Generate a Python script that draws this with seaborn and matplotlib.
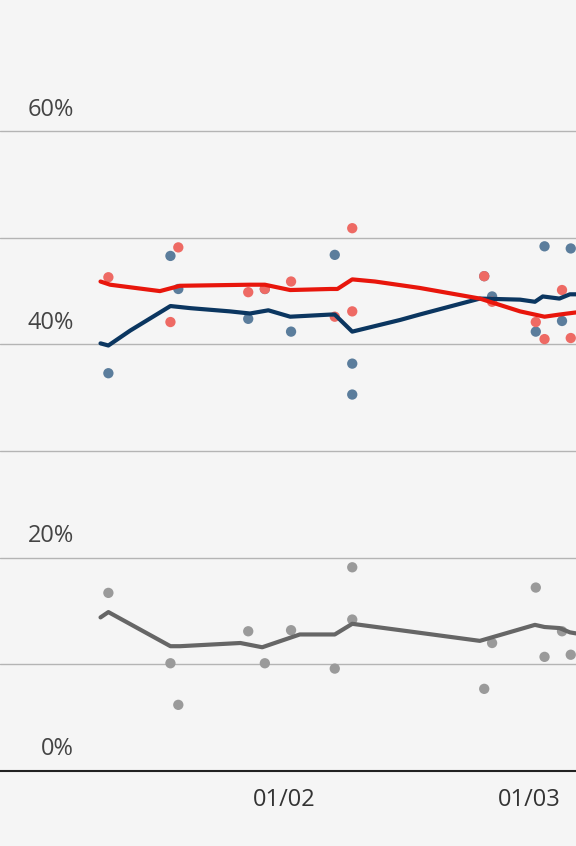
import matplotlib
matplotlib.use("Agg")
import matplotlib.pyplot as plt
import matplotlib.transforms as mtransforms
import seaborn as sns
import pandas as pd

# days since 1 Jan
poll_days = [10.9, 18.0, 18.9, 26.9, 28.8, 31.8, 36.8, 38.8, 38.8, 53.9, 54.8, 59.8, 60.8, 62.8, 63.8]
blue_polls = [37.3, 48.3, 45.2, 42.4, 45.2, 41.2, 48.4, 38.2, 35.3, 46.4, 44.5, 41.2, 49.2, 42.2, 49.0]
red_polls = [46.3, 42.1, 49.1, 44.9, 45.2, 45.9, 42.6, 50.9, 43.1, 46.4, 44.0, 42.1, 40.5, 45.1, 40.6]
gray_polls = [16.7, 10.1, 6.2, 13.1, 10.1, 13.2, 9.6, 19.1, 14.2, 7.7, 12.0, 17.2, 10.7, 13.1, 10.9]

blue_days = [10.0, 10.9, 13.4, 18.0, 20.3, 24.8, 27.1, 29.2, 31.7, 36.3, 36.8, 38.8, 44.3, 46.5, 53.4, 58.0, 59.7, 60.6, 62.5, 63.7, 64.4]
blue_avg = [40.1, 39.9, 41.3, 43.6, 43.4, 43.1, 42.9, 43.2, 42.6, 42.8, 42.8, 41.2, 42.3, 42.8, 44.3, 44.2, 44.0, 44.5, 44.3, 44.7, 44.7]
red_days = [10.0, 11.1, 16.8, 19.1, 27.1, 28.8, 31.7, 36.3, 37.1, 38.8, 41.4, 46.5, 53.4, 58.0, 60.8, 62.5, 64.4]
red_avg = [45.9, 45.6, 45.0, 45.5, 45.6, 45.6, 45.1, 45.2, 45.2, 46.1, 45.9, 45.3, 44.3, 43.1, 42.6, 42.8, 43.0]
gray_days = [10.0, 10.9, 18.0, 19.1, 21.4, 26.0, 28.5, 32.8, 36.8, 38.8, 44.3, 53.4, 59.7, 60.8, 62.5, 63.7, 64.4]
gray_avg = [14.4, 14.9, 11.7, 11.7, 11.8, 12.0, 11.6, 12.8, 12.8, 13.8, 13.2, 12.2, 13.7, 13.5, 13.4, 13.0, 12.9]

x_ticks = [31, 59]
x_labels = ["01/02", "01/03"]
y_labels = [0, 20, 40, 60]

bg = "#f5f5f5"
sns.set_style("white")
plt.rcParams['font.family'] = ['Open Sans', 'DejaVu Sans']

fig = plt.figure(figsize=(5.76, 8.46), dpi=100, facecolor=bg)
ax = fig.add_axes([0, 0.0887, 1, 0.9113], facecolor=bg)

for y in range(10, 70, 10):
    ax.axhline(y, color="#b4b4b4", lw=1, zorder=0)

series = [
    (blue_polls, blue_days, blue_avg, "#5b7d9c", "#0b3660"),
    (red_polls, red_days, red_avg, "#ee6a64", "#e8160c"),
    (gray_polls, gray_days, gray_avg, "#9a9a9a", "#666666"),
]
for polls, ldays, lavg, dot_c, line_c in series:
    sns.scatterplot(x=poll_days, y=polls, color=dot_c, s=55, edgecolor="none", ax=ax, zorder=2)
    sns.lineplot(x=ldays, y=lavg, color=line_c, lw=3, ax=ax, zorder=3)

ax.set_xlim(-1.5, 64.4)
ax.set_ylim(0, 72.3)
ax.set_yticks([])
ax.set_xticks(x_ticks)
ax.set_xticklabels(x_labels, fontsize=17, color="#333333")
ax.tick_params(axis="x", length=0, pad=12)
for s in ["top", "left", "right"]:
    ax.spines[s].set_visible(False)
ax.spines["bottom"].set_color("#222222")
ax.spines["bottom"].set_linewidth(1.5)

trans = mtransforms.blended_transform_factory(fig.transFigure, ax.transData)
for v in y_labels:
    ax.text(74 / 576, v + 0.9, f"{v}%", transform=trans, ha="right", va="bottom",
            fontsize=17, color="#444444")

fig.savefig("out.png", dpi=100, facecolor=bg)
